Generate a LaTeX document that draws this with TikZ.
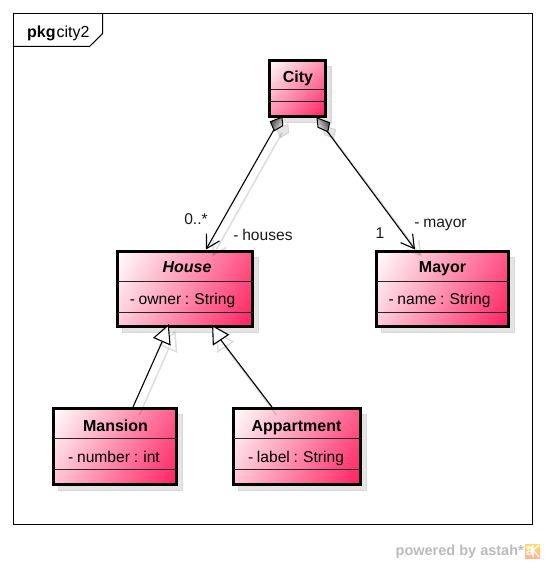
\documentclass[tikz,border=0pt]{standalone}
\usepackage{fontspec}
\setmainfont{Liberation Sans}
\usetikzlibrary{calc,arrows.meta}
\definecolor{umlred}{HTML}{FF2060}
\definecolor{shadowfill}{HTML}{E4E4E4}
\definecolor{shadowline}{HTML}{D8D8D8}
\definecolor{footergray}{HTML}{BBBBBB}
\newcommand{\umlbox}[7]{%
  \pgfmathsetmacro\cxx{(#2+#4)/2}\pgfmathsetmacro\cyy{(#3+#5)/2}%
  \pgfmathsetmacro\www{#4-#2}\pgfmathsetmacro\hhh{#5-#3}%
  \pgfmathsetmacro\aaa{atan2(\hhh,\www)}\pgfmathsetmacro\lll{veclen(\www,\hhh)/2}%
  \begin{scope}
    \clip (#2,#3) rectangle (#4,#5);
    \begin{scope}[transform canvas={shift={(\cxx,\cyy)},rotate=-\aaa}]
      \shade[left color=white,right color=umlred] (-\lll,-\lll) rectangle (\lll,\lll);
    \end{scope}
  \end{scope}
  \node[umlframe,minimum width=\www pt,minimum height=\hhh pt] (#1) at (\cxx,\cyy) {};
  \draw[divider] (#1.west |- 0,#6) -- (#1.east |- 0,#6);
  \draw[divider] (#1.west |- 0,#7) -- (#1.east |- 0,#7);
}
\newcommand{\boxshadow}[4]{%
  \fill[shadowfill] (#1+5,#2+6) rectangle (#3+6,#4+6);
  \draw[shadowline,line width=1.5pt] (#1+5,#2+6) rectangle (#3+6,#4+6);
}
\newcommand{\thinfont}{\fontsize{15.6}{18}\selectfont\spaceskip=0.24em\relax}
\tikzset{
  umlframe/.style={draw=black,line width=3pt,inner sep=0pt,outer sep=0pt,rectangle},
  divider/.style={draw=black!85,line width=1pt},
  ttl/.style={font=\fontsize{16}{18}\selectfont\bfseries,inner sep=0pt,anchor=base},
  attr/.style={font=\thinfont,inner sep=0pt,anchor=base},
  lbl/.style={font=\thinfont,inner sep=0pt,anchor=base,text=black!90},
  conn/.style={draw=black,line width=1.1pt},
  assoc/.style={conn,-{Straight Barb[length=13pt,width=15pt,line width=1.1pt]}},
  shd/.style={draw=black,opacity=.13,line width=1.6pt},
  shdassoc/.style={shd,-{Straight Barb[length=13pt,width=15pt,line width=1.6pt]}},
  hollow/.style={draw=black,fill=white,line width=1.1pt,line join=miter},
}
\begin{document}
\begin{tikzpicture}[x=1pt,y=-1pt]
\useasboundingbox (0,0) rectangle (545,564);
\fill[white] (0,0) rectangle (545,564);
% package frame
\draw[black,line width=1pt] (13.5,13.5) rectangle (532,524);
\draw[black,line width=1pt] (102.7,13.5) -- (102.7,33.5) -- (89.5,46.5) -- (13.5,46.5);
\node[inner sep=0pt,anchor=base west,font=\fontsize{16}{18}\selectfont] (pkg) at (27,37.5) {\textbf{pkg}\kern1pt city2};
% box shadows
\boxshadow{269.5}{60.5}{325}{116.5}
\boxshadow{117.5}{251.5}{252.5}{326.5}
\boxshadow{376.5}{251.5}{508.5}{326.5}
\boxshadow{53.5}{408.5}{176.5}{484.5}
\boxshadow{233.5}{408.5}{360.5}{484.5}
% classes
\umlbox{city}{269.5}{60.5}{325}{116.5}{90}{102}
\umlbox{house}{117.5}{251.5}{252.5}{326.5}{281}{312}
\umlbox{mayor}{376.5}{251.5}{508.5}{326.5}{281}{312}
\umlbox{mansion}{53.5}{408.5}{176.5}{484.5}{438}{469}
\umlbox{appartment}{233.5}{408.5}{360.5}{484.5}{438}{469}
\node[ttl] (cityname) at (298,83) {City};
\node[ttl,font=\fontsize{16}{18}\selectfont\bfseries\itshape] (housename) at (187,272.7) {House};
\node[attr] (houseattr) at (182.5,304) {- owner : String};
\node[ttl] (mayorname) at (442.5,272.7) {Mayor};
\node[attr] (mayorattr) at (439.5,304) {- name : String};
\node[ttl] (mansionname) at (115.5,431) {Mansion};
\node[attr] (mansionattr) at (114,462) {- number : int};
\node[ttl] (appname) at (296.5,431) {Appartment};
\node[attr] (appattr) at (296,462) {- label : String};
% connector ends
\coordinate (dL) at (276,126);
\coordinate (dR) at (322.5,125);
\coordinate (houseTip) at (206,249.5);
\coordinate (mayorTip) at (415,249.5);
\coordinate (triL) at (162,342);
\coordinate (triR) at (220.5,339.5);
\coordinate (mansionTop) at (133,407);
\coordinate (appTop) at (272,407);
% connector shadows
\draw[shdassoc] ($(dL)+(6,7)$) -- ($(houseTip)+(6.5,7)$);
\draw[shdassoc] ($(dR)+(6,7)$) -- ($(mayorTip)+(6.5,7)$);
\draw[shd] ($(mansionTop)+(6.5,8)$) -- ($(triL)+(6.5,7)$);
\draw[shd] ($(appTop)+(4.5,8)$) -- ($(triR)+(4.5,7)$);
\draw[shd,line join=miter] (174.8,332.3) -- (160.5,344.7) -- (176.5,351.7) -- cycle;
\draw[shd,line join=miter] (217.2,333) -- (232.8,341.7) -- (217.8,351.7) -- cycle;
\path[draw=black,opacity=.1,fill=black,line width=1pt] (276.3,128.7) -- (288,124.3) -- (288.7,132.7) -- (280.3,137.7) -- cycle;
\path[draw=black,opacity=.1,fill=black,line width=1pt] (323,125) -- (335.7,129.7) -- (333.7,138.7) -- (324,134.3) -- cycle;
% connectors
\draw[assoc] (dL) -- (houseTip);
\draw[assoc] (dR) -- (mayorTip);
\draw[conn] (mansionTop) -- (triL);
\draw[conn] (appTop) -- (triR);
% composition diamonds
\shade[draw=black,line width=1pt,top color=black!75,bottom color=black!10,shading angle=60]
  (270.3,121.7) -- (282,117.3) -- (282.7,125.7) -- (274.3,130.7) -- cycle;
\shade[draw=black,line width=1pt,top color=black!75,bottom color=black!10,shading angle=-60]
  (317,118) -- (329.7,122.7) -- (327.7,131.7) -- (318,127.3) -- cycle;
% generalization heads
\draw[hollow] (168.3,325.3) -- (154,337.7) -- (170,344.7) -- cycle;
\draw[hollow] (212.7,326) -- (228.3,334.7) -- (213.3,344.7) -- cycle;
% labels
\node[lbl] (houseMult) at (196,224.3) {0..*};
\node[lbl] (houseRole) at (263,240.7) {- houses};
\node[lbl] (mayorRole) at (440.5,227.7) {- mayor};
\node[lbl] (mayorMult) at (380,238.3) {1};
% footer
\node[inner sep=0pt,anchor=base east,text=footergray,font=\fontsize{14.5}{16}\selectfont\bfseries] (powered) at (524,555.7) {powered by astah*};
\shade[top color=yellow!55!orange!60,bottom color=orange!50!red!40] (525,544) rectangle (540,558);
\node[inner sep=0pt,text=white,font=\fontsize{14}{14}\selectfont\bfseries] (logoa) at (530,552) {a};
\draw[white,line width=1.2pt] (533,545) -- (533,557) (533,550) -- (539,545) (533,550) -- (539,557) (526,547)--(532,547);
\end{tikzpicture}
\end{document}
